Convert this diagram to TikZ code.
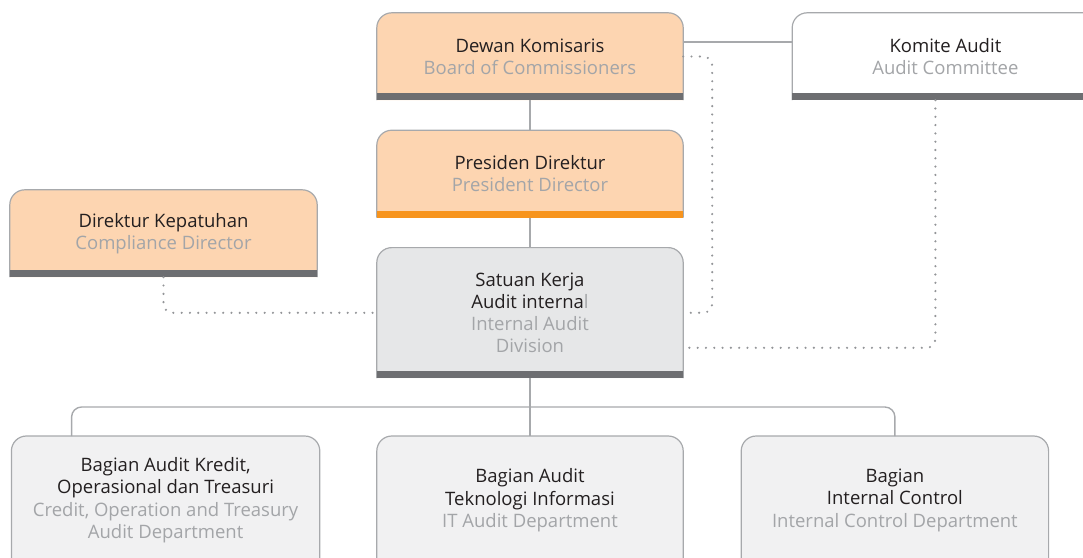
\documentclass[tikz,border=0pt]{standalone}
\usepackage{fontspec}
\setmainfont{Open Sans}
\usetikzlibrary{positioning}

\pgfdeclarelayer{back}
\pgfsetlayers{back,main}

\definecolor{ink}{HTML}{231F20}
\definecolor{engray}{HTML}{A3A5A8}
\definecolor{peach}{HTML}{FDD5B1}
\definecolor{divgray}{HTML}{E6E7E8}
\definecolor{deptgray}{HTML}{F1F1F2}
\definecolor{edgegray}{HTML}{A7A9AC}
\definecolor{bargray}{HTML}{6D6E71}
\definecolor{barorange}{HTML}{F7941D}
\definecolor{dotgray}{HTML}{939598}

\newcommand{\eng}[1]{{\color{engray}#1}}

\begin{document}
\begin{tikzpicture}[
  x=1pt, y=-1pt,
  node distance=30pt,
  box/.style={rectangle, align=center, inner sep=0pt, minimum width=306pt, minimum height=87pt,
    font=\fontsize{18.5}{22.3}\selectfont, text=ink},
  frame/.style={draw=edgegray, line width=1.2pt, rounded corners=15pt},
  line/.style={draw=edgegray, line width=1.4pt},
  dots/.style={draw=dotgray, line width=2.4pt, line cap=round, dash pattern=on 0pt off 8.3pt, rounded corners=9pt}
]
\path[use as bounding box, clip] (0,0) rectangle (1083,557);

\node[box] (dewan) at (530,56.5) {Dewan Komisaris\\\eng{Board of Commissioners}};
\node[box, below=of dewan] (presiden) {Presiden Direktur\\\eng{President Director}};
\node[box, below=of presiden, minimum height=130pt] (satuan) {Satuan Kerja\\Audit interna\eng{l}\\\eng{Internal Audit}\\\eng{Division}};
\node[box, right=109pt of dewan] (komite) {Komite Audit\\\eng{Audit Committee}};
\node[box, minimum width=307pt] (direktur) at (163.5,233.5) {Direktur Kepatuhan\\\eng{Compliance Director}};
\node[box, below=58pt of satuan, minimum height=128pt] (teknologi) {Bagian Audit\\Teknologi Informasi\\\eng{IT Audit Department}};
\node[box, left=57pt of teknologi, minimum height=128pt, minimum width=308pt] (kredit) {Bagian Audit Kredit,\\Operasional dan Treasuri\\\eng{Credit, Operation and Treasury}\\\eng{Audit Department}};
\node[box, right=58pt of teknologi, minimum height=128pt, minimum width=307pt] (control) {Bagian\\Internal Control\\\eng{Internal Control Department}};

% box outlines and bars
\begin{pgfonlayer}{back}
\clip (0,0) rectangle (1083,557);
\foreach \n/\c in {dewan/peach, presiden/peach, komite/white, direktur/peach, satuan/divgray,
                   kredit/deptgray, teknologi/deptgray, control/deptgray}
  \filldraw[frame, fill=\c] (\n.south west) |- (\n.north) -| (\n.south east);
\foreach \n/\c in {dewan/bargray, presiden/barorange, komite/bargray, direktur/bargray, satuan/bargray}
  \fill[\c] (\n.south west) rectangle ([yshift=7pt]\n.south east);
\end{pgfonlayer}

% solid lines
\draw[line] (dewan) -- (presiden);
\draw[line] (presiden) -- (satuan);
\draw[line] ([yshift=14.5pt]dewan.east) -- ([yshift=14.5pt]komite.west);
\draw[line] (satuan) -- (teknologi);
\draw[line, rounded corners=10pt] ([xshift=-94pt]kredit.north) -- ++(0,-29) -| (control.north);

% dotted lines
\draw[dots] (dewan.east) -- ++(29,0) |- (satuan.east);
\draw[dots] (direktur.south) |- (satuan.west);
\draw[dots] ([xshift=-10pt]komite.south) |- ([yshift=-35pt]satuan.east);
\end{tikzpicture}
\end{document}
